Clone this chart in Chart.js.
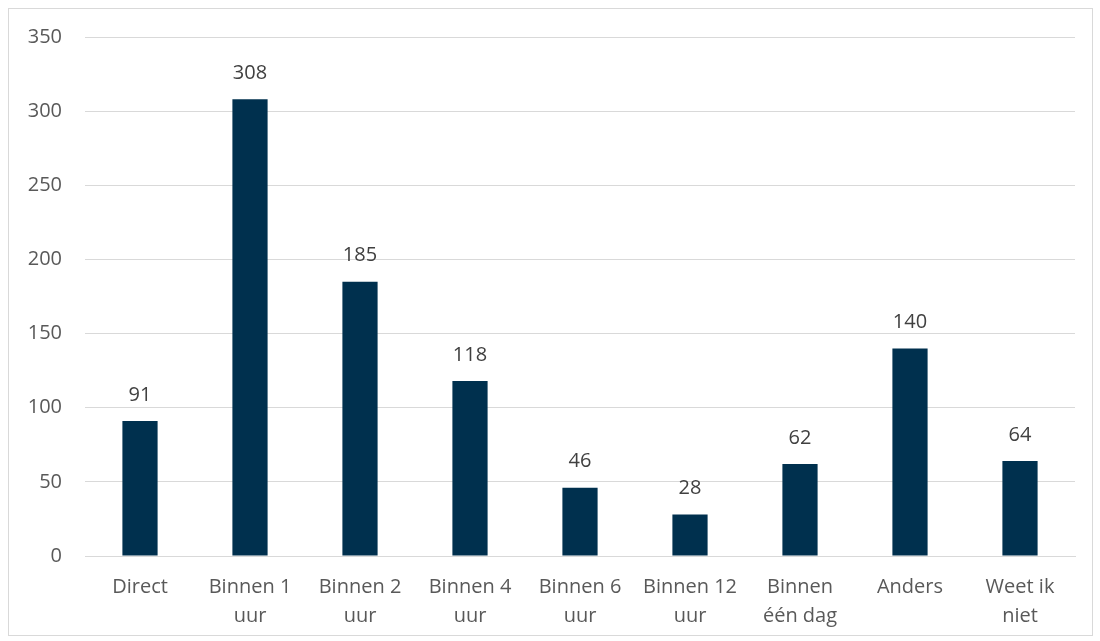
<!DOCTYPE html>
<html>
<head>
<meta charset="utf-8">
<script src="https://cdn.jsdelivr.net/npm/chart.js@4.4.1/dist/chart.umd.min.js"></script>
<style>
  body { margin: 0; background: #fff; }
  #wrap { position: relative; width: 1100px; height: 641px; }
  #frame { position: absolute; left: 8px; top: 8px; width: 1083px; height: 626px; border: 1px solid #d9d9d9; }
  canvas { position: absolute; left: 0; top: 0; }
</style>
</head>
<body>
<div id="wrap">
  <div id="frame"></div>
  <canvas id="myChart" width="1100" height="641"></canvas>
</div>
<script>
var categories = [['Direct'], ['Binnen 1', 'uur'], ['Binnen 2', 'uur'], ['Binnen 4', 'uur'], ['Binnen 6', 'uur'],
    ['Binnen 12', 'uur'], ['Binnen', 'één dag'], ['Anders'], ['Weet ik', 'niet']];
var counts = [91, 308, 185, 118, 46, 28, 62, 140, 64];
var yMax = 350;
var yStep = 50;

var fontFamily = '"Open Sans", "Noto Sans", sans-serif';

// value labels above bars
var barLabels = {
    id: 'barLabels',
    afterDatasetsDraw: function (chart) {
        var ctx = chart.ctx;
        var meta = chart.getDatasetMeta(0);
        ctx.save();
        ctx.font = '20px ' + fontFamily;
        ctx.fillStyle = '#404040';
        ctx.textAlign = 'center';
        ctx.textBaseline = 'middle';
        meta.data.forEach(function (bar, i) {
            ctx.fillText(String(counts[i]), bar.x, bar.y - 26);
        });
        ctx.restore();
    }
};

var ctx = document.getElementById('myChart').getContext('2d');
var myChart = new Chart(ctx, {
    type: 'bar',
    data: {
        labels: categories,
        datasets: [{
            data: counts,
            backgroundColor: '#00304e',
            barPercentage: 0.64,
            categoryPercentage: 0.5
        }]
    },
    options: {
        responsive: false,
        animation: false,
        layout: { padding: { left: 20, right: 25, top: 37, bottom: 0 } },
        plugins: {
            legend: { display: false },
            tooltip: { enabled: false }
        },
        scales: {
            x: {
                grid: { display: false, drawTicks: false },
                border: { color: '#d9d9d9', width: 1 },
                ticks: {
                    color: '#595959',
                    font: { family: fontFamily, size: 20, lineHeight: 1.45 },
                    padding: 17,
                    maxRotation: 0,
                    autoSkip: false
                },
                afterFit: function (scale) { scale.height = 85; }
            },
            y: {
                min: 0,
                max: yMax,
                grid: { color: '#d9d9d9', lineWidth: 1, drawTicks: false },
                border: { display: false },
                ticks: {
                    stepSize: yStep,
                    color: '#595959',
                    font: { family: fontFamily, size: 20 },
                    padding: 23
                },
                afterFit: function (scale) { scale.width = 65; }
            }
        }
    },
    plugins: [barLabels]
});
</script>
</body>
</html>
